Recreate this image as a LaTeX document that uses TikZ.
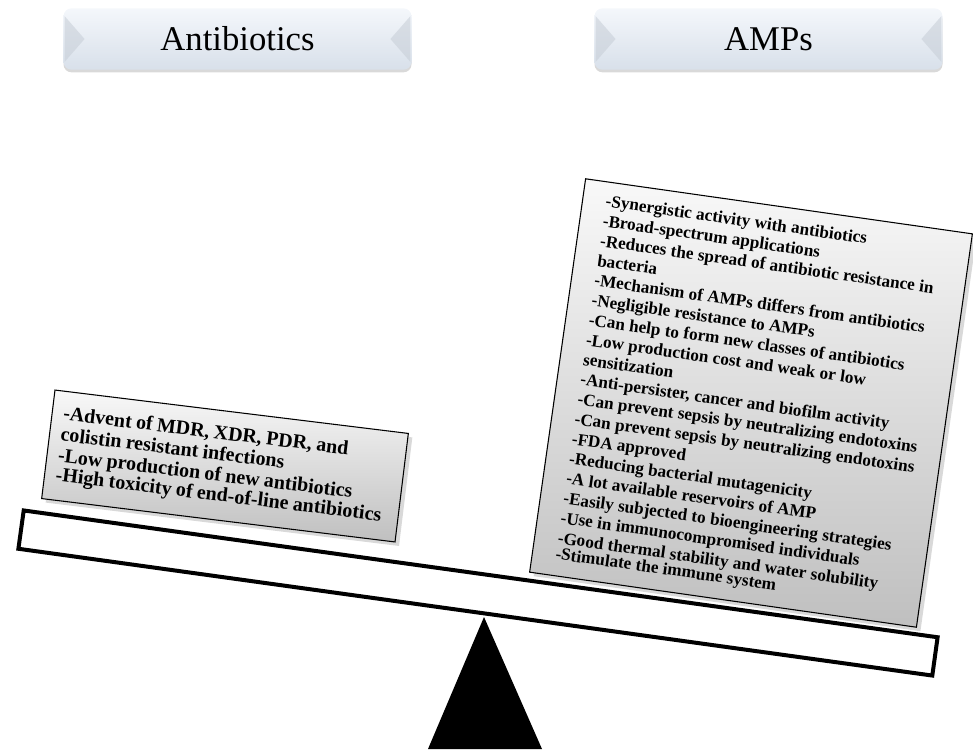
\documentclass[tikz,border=0pt]{standalone}
\usepackage{fontspec}
\setmainfont{Liberation Serif}
\usetikzlibrary{shadows}

\definecolor{headtop}{HTML}{F4F7FB}
\definecolor{headbot}{HTML}{D8E0EA}
\definecolor{bevelgray}{HTML}{C6CDD6}

\tikzset{
  header/.style={rounded corners=6pt, minimum width=261pt, minimum height=46pt,
    top color=headtop, bottom color=headbot, font=\fontsize{26}{30}\selectfont,
    drop shadow={shadow xshift=0pt, shadow yshift=-2pt, opacity=0.3}},
  bevelside/.style={fill=bevelgray, opacity=0.55},
  listbox/.style={draw=black, line width=0.8pt, align=left, font=\bfseries,
    top color=gray!5, bottom color=gray!50,
    drop shadow={shadow xshift=3pt, shadow yshift=-3pt, opacity=0.3}},
  lever/.style={draw=black, line width=3pt, fill=white,
    minimum width=692pt, minimum height=29pt},
}

\begin{document}
\begin{tikzpicture}[x=0.75pt,y=-0.75pt]
\useasboundingbox (0,0) rectangle (973,749);

% Headers
\node[header] (hAnti) at (237.5,39) {Antibiotics};
\node[header] (hAmps) at (768.5,39) {AMPs};
\foreach \h in {hAnti,hAmps}{
  \fill[bevelside] ([xshift=1pt,yshift=-6pt]\h.north west) -- ([xshift=16pt]\h.west)
    -- ([xshift=1pt,yshift=6pt]\h.south west) -- cycle;
  \fill[bevelside] ([xshift=-1pt,yshift=-6pt]\h.north east) -- ([xshift=-16pt]\h.east)
    -- ([xshift=-1pt,yshift=6pt]\h.south east) -- cycle;
}

% Lever and fulcrum
\node[lever, rotate=-7.9] (bar) at (478,593) {};
\coordinate (tip) at (484,617);
\fill (tip) -- (542,749) -- (428,749) -- cycle;

% Left side
\node[listbox, rotate=-7, minimum width=267pt, minimum height=82pt,
  text width=250pt] (antiBox) at (225,466)
  {\fontsize{15}{15.8}\selectfont
   -Advent of MDR, XDR, PDR, and\\
   colistin resistant infections\\
   -Low production of new antibiotics\\
   -High toxicity of end-of-line antibiotics};

% Right side
\node[listbox, rotate=-8.1, minimum width=293pt, minimum height=298pt,
  text width=258pt] (ampBox) at (751,403)
  {\fontsize{12.9}{15}\selectfont
   -Synergistic activity with antibiotics\\
   -Broad-spectrum applications\\
   -Reduces the spread of antibiotic resistance in\\
   bacteria\\
   -Mechanism of AMPs differs from antibiotics\\
   -Negligible resistance to AMPs\\
   -Can help to form new classes of antibiotics\\
   -Low production cost and weak or low\\
   sensitization\\
   -Anti-persister, cancer and biofilm activity\\
   -Can prevent sepsis by neutralizing endotoxins\\
   -Can prevent sepsis by neutralizing endotoxins\\
   -FDA approved\\
   -Reducing bacterial mutagenicity\\
   -A lot available reservoirs of AMP\\
   -Easily subjected to bioengineering strategies\\
   -Use in immunocompromised individuals\\
   -Good thermal stability and water solubility\\
   -Stimulate the immune system};
\end{tikzpicture}
\end{document}
